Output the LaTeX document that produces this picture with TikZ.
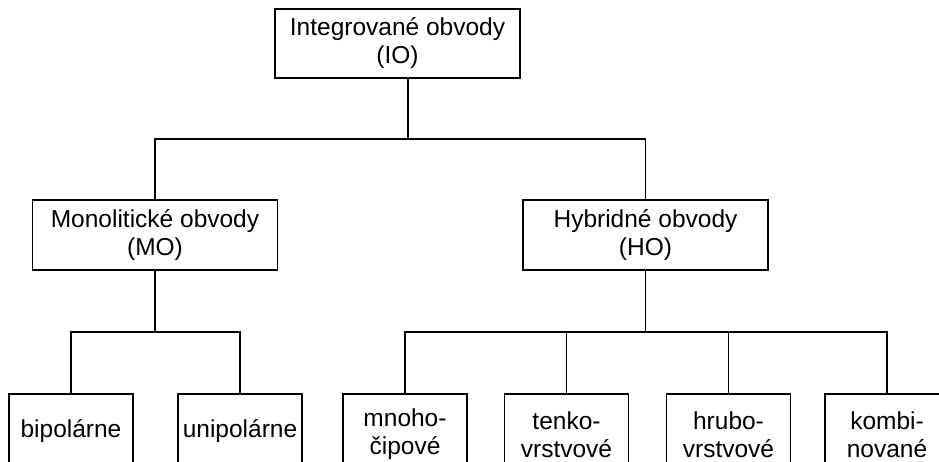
\documentclass[tikz,border=0pt]{standalone}
\usepackage{fontspec}
\setmainfont{Liberation Sans}

\tikzset{
	box/.style={draw, align=center, inner sep=0pt, font=\fontsize{24.5}{28}\selectfont},
	topbox/.style={box, minimum width=245, minimum height=69},
	midbox/.style={box, minimum width=245, minimum height=70},
	leafbox/.style={box, minimum width=124, minimum height=81},
	oneleaf/.style={box, minimum width=124, minimum height=74}
}

\begin{document}
\begin{tikzpicture}[x=1pt,y=-1pt,line width=1.4pt]
		\useasboundingbox (0,0) rectangle (939,462);
		\clip (0,0) rectangle (939,462);
		\node[topbox] (io) at (397.5,43.5) {Integrované obvody\\(IO)};
		\node[midbox] (mo) at (155,235) {Monolitické obvody\\(MO)};
		\node[midbox] (ho) at (645.5,235) {Hybridné obvody\\(HO)};
		\node[oneleaf] (bip) at (71,431) {bipolárne};
		\node[oneleaf] (uni) at (240,431) {unipolárne};
		\node[leafbox] (mno) at (405,434.5) {mnoho-\\čipové};
		\node[leafbox] (ten) at (566.5,434.5) {tenko-\\vrstvové};
		\node[leafbox] (hru) at (728.5,434.5) {hrubo-\\vrstvové};
		\node[leafbox] (kom) at (887,434.5) {kombi-\\nované};
		\coordinate (iojoin) at (408,139);
		\coordinate (mojoin) at (155,332);
		\coordinate (hojoin) at (ho.south |- mojoin);
		\draw (io.south -| iojoin) -- (iojoin);
		\draw (mo.north) |- (iojoin) -| (ho.north);
		\draw (mo.south) -- (mojoin);
		\draw (bip.north) |- (mojoin) -| (uni.north);
		\draw (ho.south) -- (hojoin);
		\draw (mno.north) |- (hojoin) -| (kom.north);
		\draw (ten.north) -- (ten.north |- hojoin);
		\draw (hru.north) -- (hru.north |- hojoin);
	\end{tikzpicture}
\end{document}
